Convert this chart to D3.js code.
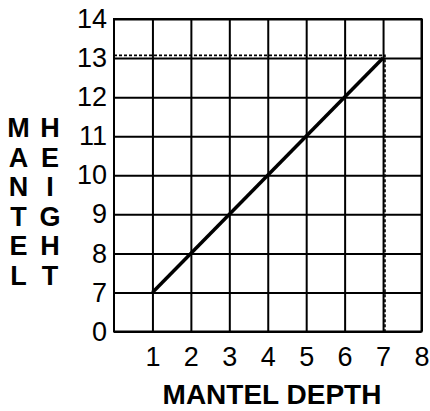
<!DOCTYPE html>
<html>
<head>
<meta charset="utf-8">
<script src="https://cdn.jsdelivr.net/npm/d3@7"></script>
<style>
  html, body { margin: 0; padding: 0; background: #fff; }
  svg { display: block; }
  text { font-family: "Liberation Sans", Arial, sans-serif; fill: #000; }
</style>
</head>
<body>
<script>
// Mantel height vs. mantel depth
const depthTicks = [1, 2, 3, 4, 5, 6, 7, 8];
const heightTicks = [6, 7, 8, 9, 10, 11, 12, 13, 14];   // bottom row is the broken "0" row
const heightLabels = ["0", "7", "8", "9", "10", "11", "12", "13", "14"];
const lineDepth = [1, 7];
const lineHeight = [7, 13];
const guideDepth = 7.05;
const guideHeight = 13.07;
const leftTitle = ["M", "A", "N", "T", "E", "L"];
const rightTitle = ["H", "E", "I", "G", "H", "T"];

const W = 430, H = 411;
const m = { top: 19, right: 8.5, bottom: 79.5, left: 114 };
const w = W - m.left - m.right, h = H - m.top - m.bottom;

const svg = d3.select("body").append("svg").attr("width", W).attr("height", H);
const g = svg.append("g").attr("transform", `translate(${m.left},${m.top})`);

const x = d3.scaleLinear().domain([0, 8]).range([0, w]);
const y = d3.scaleLinear().domain([6, 14]).range([h, 0]);

// x axis with vertical grid lines
const xa = g.append("g").attr("transform", `translate(0,${h})`)
  .call(d3.axisBottom(x).tickValues(depthTicks).tickSize(-h).tickSizeOuter(0).tickPadding(15));
xa.select(".domain").remove();
xa.selectAll("line").attr("stroke", "#000").attr("stroke-width", 2);
xa.selectAll("text").attr("font-size", 27);

// y axis with horizontal grid lines
const ya = g.append("g")
  .call(d3.axisLeft(y).tickValues(heightTicks).tickSize(-w).tickSizeOuter(0).tickPadding(7)
    .tickFormat((d, i) => heightLabels[i]));
ya.select(".domain").remove();
ya.selectAll("line").attr("stroke", "#000").attr("stroke-width", 2);
ya.selectAll("text").attr("font-size", 27);

// frame
g.append("rect").attr("x", 0).attr("y", 0).attr("width", w).attr("height", h)
  .attr("fill", "none").attr("stroke", "#000").attr("stroke-width", 2);

// dotted guide lines to the end point
g.append("path")
  .attr("d", d3.line()([[x(0), y(guideHeight)], [x(guideDepth), y(guideHeight)], [x(guideDepth), y(6)]]))
  .attr("fill", "none").attr("stroke", "#000").attr("stroke-width", 1.6)
  .attr("stroke-dasharray", "3,2");

// main relationship line
g.append("path")
  .datum(lineDepth.map((d, i) => [d, lineHeight[i]]))
  .attr("d", d3.line().x(d => x(d[0])).y(d => y(d[1])))
  .attr("fill", "none").attr("stroke", "#000").attr("stroke-width", 3.5);

// axis titles
svg.append("text").attr("x", 272).attr("y", 404).attr("text-anchor", "middle")
  .attr("font-size", 28).attr("font-weight", "bold").text("MANTEL DEPTH");

const col = (letters, cx) => svg.append("g").selectAll("text").data(letters).join("text")
  .attr("x", cx).attr("y", (d, i) => 137 + i * 29.5)
  .attr("text-anchor", "middle").attr("font-size", 27).attr("font-weight", "bold").text(d => d);
col(leftTitle, 18.5);
col(rightTitle, 50);
</script>
</body>
</html>
